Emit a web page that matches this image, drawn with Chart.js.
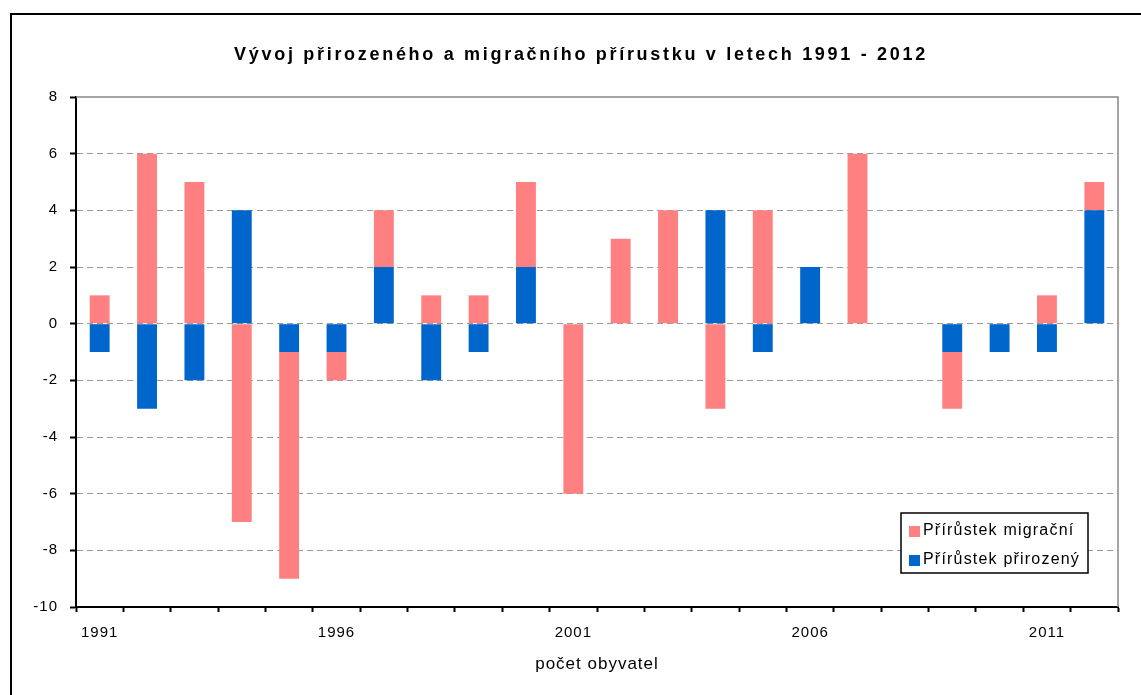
<!DOCTYPE html>
<html lang="cs">
<head>
<meta charset="UTF-8">
<title>Vývoj přirozeného a migračního přírustku</title>
<script src="https://cdn.jsdelivr.net/npm/chart.js"></script>
<style>
  html, body { margin: 0; padding: 0; background: #fff; }
  #chart { display: block; }
</style>
</head>
<body>
<canvas id="chart" width="1141" height="695"></canvas>
<script>
// values
const years = ['1991', '1992', '1993', '1994', '1995', '1996', '1997', '1998', '1999', '2000', '2001',
               '2002', '2003', '2004', '2005', '2006', '2007', '2008', '2009', '2010', '2011', '2012'];
const natural   = [-1, -3, -2, 4, -1, -1, 2, -2, -1, 2, 0, 0, 0, 4, -1, 2, 0, 0, -1, -1, -1, 4];
const migration = [1, 6, 5, -7, -8, -1, 2, 1, 1, 3, -6, 3, 4, -3, 4, 0, 6, 0, -2, 0, 1, 1];
const yTicks = [-10, -8, -6, -4, -2, 0, 2, 4, 6, 8];

const chartTitle = 'Vývoj přirozeného a migračního přírustku v letech 1991 - 2012';
const xTitle = 'počet obyvatel';
const labelNatural = 'Přírůstek přirozený';
const labelMigration = 'Přírůstek migrační';

const FONT = '"Liberation Sans", Arial, sans-serif';
Chart.defaults.font.family = FONT;
Chart.defaults.color = '#000';

// white background, outer frame, plot border, title and the boxed legend
const framePlugin = {
    id: 'frame',
    beforeDraw(chart) {
        const ctx = chart.ctx;
        ctx.fillStyle = '#fff';
        ctx.fillRect(0, 0, chart.width, chart.height);
        ctx.letterSpacing = '1px';
    },
    afterDraw(chart) {
        const ctx = chart.ctx;
        const a = chart.chartArea;
        ctx.save();
        // outer frame
        ctx.strokeStyle = '#000';
        ctx.lineWidth = 2;
        ctx.strokeRect(11, 14, 1200, 800);
        // plot area top / right edge
        ctx.strokeStyle = '#888';
        ctx.lineWidth = 1.5;
        ctx.beginPath();
        ctx.moveTo(a.left, a.top);
        ctx.lineTo(a.right, a.top);
        ctx.lineTo(a.right, a.bottom);
        ctx.stroke();

        // title
        ctx.letterSpacing = '2.7px';
        ctx.font = 'bold 18px ' + FONT;
        ctx.fillStyle = '#000';
        ctx.textAlign = 'center';
        ctx.textBaseline = 'alphabetic';
        ctx.fillText(chartTitle, 581, 60);

        // legend
        const items = [chart.data.datasets[1], chart.data.datasets[0]];
        const bx = 901, by = 513, bw = 187, bh = 60;
        ctx.fillStyle = '#fff';
        ctx.fillRect(bx, by, bw, bh);
        ctx.strokeStyle = '#000';
        ctx.lineWidth = 1.5;
        ctx.strokeRect(bx, by, bw, bh);
        ctx.letterSpacing = '1.2px';
        ctx.font = '16px ' + FONT;
        ctx.textAlign = 'left';
        ctx.textBaseline = 'middle';
        items.forEach((ds, i) => {
            const cy = by + 18 + i * 29;
            ctx.fillStyle = ds.backgroundColor;
            ctx.fillRect(bx + 8, cy - 5, 11, 11);
            ctx.fillStyle = '#000';
            ctx.fillText(ds.label, bx + 22, cy);
        });
        ctx.restore();
    }
};

const ctx = document.getElementById('chart').getContext('2d');
new Chart(ctx, {
    type: 'bar',
    data: {
        labels: years,
        datasets: [
            { label: labelNatural, data: natural, backgroundColor: '#0066cc' },
            { label: labelMigration, data: migration, backgroundColor: '#ff8080' }
        ]
    },
    options: {
        responsive: false,
        animation: false,
        layout: { padding: { top: 97, right: 23, left: 0, bottom: 0 } },
        datasets: { bar: { barPercentage: 0.42, categoryPercentage: 1, borderWidth: 0 } },
        plugins: {
            legend: { display: false },
            title: { display: false },
            tooltip: { enabled: false }
        },
        scales: {
            x: {
                stacked: true,
                afterFit: s => { s.height = 88; },
                grid: {
                    offset: true,
                    drawOnChartArea: false,
                    tickLength: 5,
                    tickColor: '#000',
                    tickWidth: 2
                },
                border: { color: '#000', width: 2 },
                ticks: {
                    autoSkip: false,
                    maxRotation: 0,
                    padding: 12,
                    font: { size: 15 },
                    callback: (v, i) => (i % 5 === 0 ? years[i] : '')
                },
                title: {
                    display: true,
                    text: xTitle,
                    font: { size: 17 },
                    padding: { top: 0, bottom: 20 }
                }
            },
            y: {
                stacked: true,
                min: -10,
                max: 8,
                afterFit: s => { s.width = 76; },
                afterBuildTicks: s => { s.ticks = yTicks.map(v => ({ value: v })); },
                grid: {
                    color: c => (c.tick && (c.tick.value === 8 || c.tick.value === -10) ? 'rgba(0,0,0,0)' : '#999'),
                    lineWidth: 1,
                    tickLength: 6,
                    tickColor: '#000',
                    tickWidth: 2,
                    tickBorderDash: []
                },
                border: { color: '#000', width: 2, dash: [6, 4] },
                ticks: {
                    padding: 12,
                    font: { size: 15 }
                }
            }
        }
    },
    plugins: [framePlugin]
});
</script>
</body>
</html>
